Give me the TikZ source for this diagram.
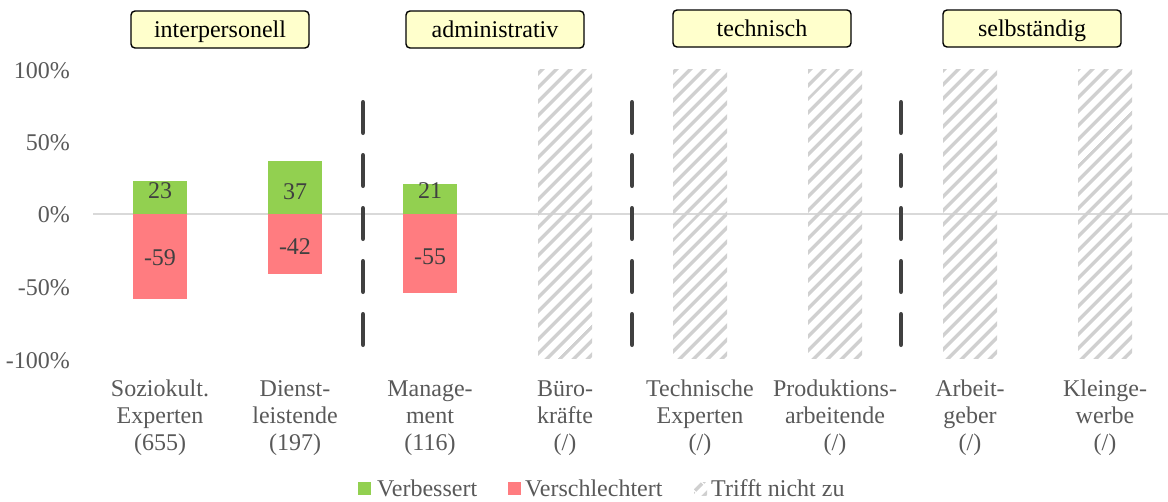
\documentclass[tikz,border=0pt]{standalone}
\usepackage{fontspec}
\setmainfont{Liberation Serif}
\usetikzlibrary{patterns.meta}
\definecolor{better}{HTML}{92D050}
\definecolor{worse}{HTML}{FF7C80}
\definecolor{hatchgray}{HTML}{D0D0D0}
\definecolor{axisgray}{HTML}{D9D9D9}
\definecolor{labelgray}{HTML}{595959}
\definecolor{valgray}{HTML}{404040}
\definecolor{sepgray}{HTML}{404040}
\definecolor{headfill}{HTML}{FFFFCC}
\tikzset{
  x=1pt, y=-1pt,
  txt/.style={font=\fontsize{24}{26.8}\selectfont, inner sep=0pt},
  header/.style={txt, draw=black, line width=1.4pt, fill=headfill, rounded corners=4pt,
    minimum width=178pt, minimum height=37pt, text=black, text height=18pt, text depth=2pt},
  ticklabel/.style={txt, text=labelgray, anchor=east},
  catlabel/.style={txt, text=labelgray, align=center},
  vallabel/.style={txt, text=valgray},
  upbar/.style={fill=better},
  downbar/.style={fill=worse},
  nabar/.style={pattern={Lines[angle=45, distance=10.5pt, line width=3.8pt]}, pattern color=hatchgray},
  separator/.style={draw=sepgray, line width=4.5pt, line cap=round, dash pattern=on 30.5pt off 22.5pt},
  legtext/.style={txt, text=labelgray, anchor=west},
}
\begin{document}
\begin{tikzpicture}
\useasboundingbox (0,0) rectangle (1168,501);

% zero line
\coordinate (zl) at (93,214);
\coordinate (zr) at (1168,214);
\draw[axisgray, line width=1.6pt] (zl) -- (zr);

% y-axis tick labels
\node[ticklabel] (t100) at (70,71) {100\%};
\node[ticklabel] (t50) at (70,143) {50\%};
\node[ticklabel] (t0) at (70,215) {0\%};
\node[ticklabel] (tm50) at (70,288) {-50\%};
\node[ticklabel] (tm100) at (70,361) {-100\%};

% bars with data
\fill[upbar] (133,181) rectangle (187,214);
\fill[downbar] (133,214) rectangle (187,299);
\fill[upbar] (268,161) rectangle (322,214);
\fill[downbar] (268,214) rectangle (322,274);
\fill[upbar] (403,184) rectangle (457,214);
\fill[downbar] (403,214) rectangle (457,293);

\node[vallabel] (v1) at (160,191) {23};
\node[vallabel] (v2) at (160,258) {-59};
\node[vallabel] (v3) at (295,192) {37};
\node[vallabel] (v4) at (295,247) {-42};
\node[vallabel] (v5) at (430,191) {21};
\node[vallabel] (v6) at (430,257) {-55};

% categories without data
\foreach \c in {565,700,835,970,1105}
  \fill[nabar] (\c-27,69) rectangle (\c+27,358);

% group separators
\foreach \s/\xx in {sa/363,sb/632,sc/901} {
  \coordinate (\s top) at (\xx,102.25);
  \coordinate (\s bot) at (\xx,344.75);
  \draw[separator] (\s top) -- (\s bot);
}

% group headers
\node[header] (h1) at (220,29.5) {interpersonell};
\node[header] (h2) at (495,29.5) {administrativ};
\node[header] (h3) at (762,28.5) {technisch};
\node[header] (h4) at (1032,28.5) {selbständig};

% category labels
\node[catlabel] (c1) at (160,418) {Soziokult.\\Experten\\(655)};
\node[catlabel] (c2) at (295,418) {Dienst-\\leistende\\(197)};
\node[catlabel] (c3) at (430,418) {Manage-\\ment\\(116)};
\node[catlabel] (c4) at (565,418) {Büro-\\kräfte\\(/)};
\node[catlabel] (c5) at (700,418) {Technische\\Experten\\(/)};
\node[catlabel] (c6) at (835,418) {Produktions-\\arbeitende\\(/)};
\node[catlabel] (c7) at (970,418) {Arbeit-\\geber\\(/)};
\node[catlabel] (c8) at (1105,418) {Kleinge-\\werbe\\(/)};

% legend
\fill[better] (358,482) rectangle (371,495);
\node[legtext] (l1) at (377,488.5) {Verbessert};
\fill[worse] (508,482) rectangle (521,495);
\node[legtext] (l2) at (525,488.5) {Verschlechtert};
\fill[nabar] (694,482) rectangle (707,495);
\node[legtext] (l3) at (711,488.5) {Trifft nicht zu};
\end{tikzpicture}
\end{document}
